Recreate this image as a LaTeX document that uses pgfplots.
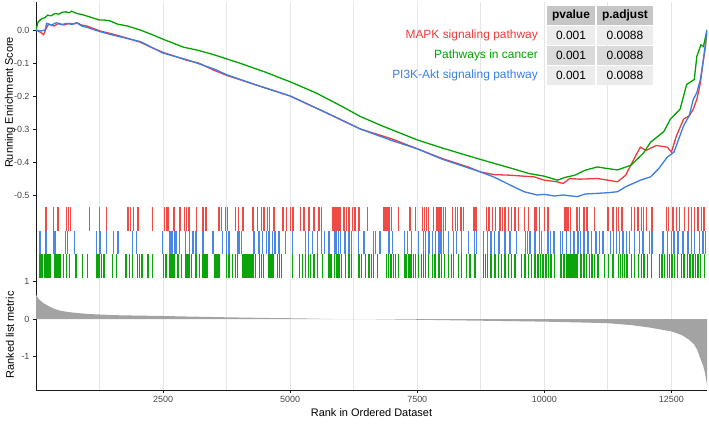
\documentclass[border=0pt]{standalone}
\usepackage{fontspec}
\setmainfont{Liberation Sans}
\usepackage{pgfplots}
\pgfplotsset{compat=1.18}
\definecolor{cRed}{HTML}{EE3B3B}
\definecolor{cGreen}{HTML}{00A300}
\definecolor{cBlue}{HTML}{3A7EE4}
\definecolor{bRed}{HTML}{EF4A45}
\definecolor{bGreen}{HTML}{0CA40C}
\definecolor{bBlue}{HTML}{4A86E4}
\definecolor{gridc}{HTML}{E6E6E6}
\definecolor{fillg}{HTML}{A3A3A3}
\definecolor{axc}{HTML}{1A1A1A}
\definecolor{hdr}{HTML}{C6C6C6}
\definecolor{rowa}{HTML}{ECECEC}
\definecolor{rowb}{HTML}{DADADA}
\pgfplotsset{
  base/.style={
    scale only axis, width=671bp,
    xmin=0, xmax=13200,
    scaled ticks=false,
    separate axis lines,
    axis y line*=left, axis x line*=bottom,
    axis line style={-, axc, line width=0.9bp},
    xtick={2500,5000,7500,10000,12500},
    minor xtick={1250,3750,6250,8750,11250},
    xmajorgrids, xminorgrids,
    major grid style={gridc, line width=0.8bp},
    minor grid style={gridc, line width=0.8bp},
    tick align=outside, major tick length=3bp, minor tick length=0pt,
    tick style={axc, line width=0.8bp},
    ticklabel style={font=\fontsize{9}{10}\selectfont, text=black!72},
  },
  nox/.style={x axis line style={draw=none}, xticklabels={}, xtick style={draw=none}},
  rug/.style={scale only axis, width=671bp, xmin=0, xmax=13200, ymin=0, ymax=1,
    hide axis, anchor=south west},
}
\begin{document}
\begin{tikzpicture}
\path[use as bounding box] (0,0) rectangle (709bp,425bp);
% ---------------- top panel: running enrichment score
\begin{axis}[base, nox, at={(36bp,222bp)}, anchor=south west, height=201bp,
  ymin=-0.5242, ymax=0.0848,
  ytick={0,-0.1,-0.2,-0.3,-0.4,-0.5},
  yticklabels={0.0,-0.1,-0.2,-0.3,-0.4,-0.5}]
\addplot[cRed, line width=1.3bp] coordinates {
(0,0) (100,-0.008) (150,-0.014) (200,0.005) (250,0.018) (350,0.012) (450,0.02) (550,0.015)
(650,0.02) (750,0.018) (800,0.022) (900,0.015) (1000,0.012) (1260,-0.003) (1500,-0.012)
(1800,-0.025) (2050,-0.037) (2300,-0.055) (2500,-0.068) (2970,-0.092) (3200,-0.1)
(3500,-0.122) (3760,-0.138) (4300,-0.165) (5000,-0.2) (5700,-0.25) (6380,-0.3)
(7000,-0.33) (7500,-0.36) (8000,-0.39) (8500,-0.415) (8740,-0.43) (9000,-0.438)
(9330,-0.44) (9600,-0.443) (9800,-0.445) (10000,-0.455) (10250,-0.46) (10370,-0.465)
(10500,-0.45) (10700,-0.452) (11040,-0.45) (11250,-0.455) (11440,-0.46) (11600,-0.44)
(11800,-0.38) (11890,-0.355) (12000,-0.365) (12200,-0.35) (12420,-0.355) (12500,-0.37)
(12600,-0.32) (12740,-0.27) (12850,-0.26) (12930,-0.24) (13000,-0.21) (13070,-0.16)
(13120,-0.1) (13170,-0.05) (13200,0)};
\addplot[cGreen, line width=1.3bp] coordinates {
(0,0) (40,0.024) (100,0.033) (180,0.038) (230,0.045) (300,0.043) (370,0.05) (450,0.048)
(520,0.054) (590,0.055) (650,0.052) (700,0.057) (760,0.053) (800,0.05) (900,0.047)
(1050,0.04) (1150,0.035) (1250,0.03) (1350,0.03) (1450,0.028) (1600,0.018) (1800,0.012)
(2050,0.0) (2300,-0.015) (2500,-0.028) (2700,-0.04) (2900,-0.052) (3200,-0.062)
(3500,-0.075) (3760,-0.088) (4000,-0.1) (4500,-0.127) (5000,-0.157) (5500,-0.19)
(6000,-0.23) (6380,-0.262) (6800,-0.29) (7500,-0.333) (8000,-0.358) (8740,-0.392)
(9330,-0.418) (9700,-0.435) (10000,-0.443) (10255,-0.455) (10400,-0.447) (10600,-0.44)
(10800,-0.425) (11040,-0.415) (11250,-0.42) (11440,-0.424) (11700,-0.41) (11950,-0.373)
(12090,-0.34) (12350,-0.308) (12480,-0.27) (12670,-0.24) (12800,-0.165) (12950,-0.15)
(13000,-0.08) (13080,-0.045) (13130,-0.05) (13200,0)};
\addplot[cBlue, line width=1.3bp] coordinates {
(0,0) (100,-0.003) (180,0.0) (210,0.02) (300,0.015) (400,0.022) (500,0.016) (600,0.02)
(700,0.017) (800,0.022) (900,0.012) (1000,0.008) (1260,-0.005) (1500,-0.015)
(2050,-0.035) (2500,-0.07) (2970,-0.09) (3500,-0.118) (3760,-0.136) (4300,-0.165)
(5000,-0.2) (5700,-0.25) (6380,-0.3) (7000,-0.335) (7500,-0.36) (8000,-0.392)
(8740,-0.43) (9000,-0.445) (9330,-0.47) (9600,-0.49) (9860,-0.5) (10000,-0.498)
(10200,-0.503) (10370,-0.5) (10650,-0.505) (10800,-0.497) (11040,-0.495) (11250,-0.493)
(11440,-0.49) (11600,-0.475) (11890,-0.455) (12090,-0.445) (12250,-0.42) (12420,-0.385)
(12550,-0.37) (12740,-0.29) (12850,-0.26) (12930,-0.21) (13000,-0.19) (13070,-0.15)
(13120,-0.1) (13170,-0.04) (13200,0)};
\end{axis}
% ---------------- middle panel: grid only
\begin{axis}[base, nox, at={(36bp,145bp)}, anchor=south west, height=77bp,
  ymin=0, ymax=77, ytick=\empty]
\addplot[draw=none] coordinates {(0,0) (13200,77)};
\end{axis}
% ---------------- hit rugs
\begin{axis}[rug, at={(36bp,194bp)}, height=24bp]
\addplot[bRed, line width=1.4bp, ycomb]
 table[header=false, row sep=\\, x index=0, y expr=1] {197\\341\\433\\604\\643\\683\\1050\\1247\\1391\\1811\\1864\\1916\\2008\\2297\\2527\\2573\\2599\\2717\\2835\\2927\\2966\\3006\\3163\\3282\\3348\\3597\\3650\\3728\\3768\\3925\\3978\\4070\\4267\\4352\\4437\\4483\\4549\\4595\\4680\\4857\\4923\\5008\\5054\\5205\\5271\\5356\\5382\\5468\\5566\\5619\\5842\\5881\\5921\\5960\\5993\\6058\\6104\\6157\\6222\\6275\\6354\\6518\\6832\\6865\\6905\\6944\\6996\\7128\\7357\\7469\\7600\\7640\\7679\\7718\\7823\\7889\\7928\\7968\\8014\\8060\\8191\\8257\\8296\\8361\\8407\\8604\\8637\\8670\\8867\\8913\\8978\\9044\\9129\\9175\\9228\\9293\\9359\\9425\\9490\\9609\\9687\\9805\\9839\\9904\\10003\\10069\\10397\\10429\\10462\\10515\\10646\\10692\\10777\\10843\\10987\\11250\\11348\\11414\\11460\\11526\\11709\\11775\\11841\\11906\\11946\\12005\\12116\\12398\\12444\\12530\\12595\\12661\\12759\\12838\\12891\\12956\\13022\\13088\\13140\\};
\end{axis}
\begin{axis}[rug, at={(36bp,171bp)}, height=23bp]
\addplot[bBlue, line width=1.4bp, ycomb]
 table[header=false, row sep=\\, x index=0, y expr=1] {79\\197\\341\\374\\578\\623\\761\\1194\\1260\\1391\\1523\\1614\\1903\\1982\\2494\\2625\\2658\\2691\\2724\\2756\\2822\\2940\\3019\\3085\\3150\\3282\\3479\\3663\\3742\\3794\\3958\\3991\\4043\\4286\\4385\\4450\\4529\\4582\\4647\\4700\\4778\\4910\\5041\\5304\\5356\\5435\\5533\\5619\\5671\\5763\\5881\\5907\\5947\\5993\\6078\\6157\\6209\\6341\\6452\\6635\\6681\\6767\\6944\\7010\\7246\\7311\\7390\\7521\\7620\\7666\\7731\\7797\\7863\\7928\\7968\\8014\\8112\\8211\\8276\\8375\\8506\\8624\\8670\\8801\\8887\\8952\\9018\\9110\\9228\\9326\\9458\\9635\\9674\\9720\\9819\\9904\\9950\\10069\\10121\\10187\\10318\\10357\\10436\\10515\\10580\\10659\\10712\\10777\\10856\\10922\\11020\\11086\\11151\\11302\\11355\\11414\\11480\\11545\\11611\\11677\\11775\\11873\\11939\\12070\\12116\\12333\\12418\\12497\\12549\\12628\\12726\\12825\\12891\\12956\\13055\\13120\\13166\\};
\end{axis}
\begin{axis}[rug, at={(36bp,147bp)}, height=24bp]
\addplot[bGreen, line width=1.4bp, ycomb]
 table[header=false, row sep=\\, x index=0, y expr=1] {66\\92\\118\\171\\197\\223\\249\\276\\361\\394\\433\\473\\538\\604\\656\\788\\919\\1017\\1194\\1221\\1247\\1286\\1326\\1352\\1509\\1588\\1772\\1838\\1903\\2002\\2035\\2087\\2205\\2297\\2507\\2560\\2638\\2678\\2717\\2796\\2862\\2940\\2966\\2993\\3019\\3058\\3150\\3216\\3282\\3322\\3361\\3518\\3558\\3597\\3742\\3794\\3860\\3925\\3958\\4070\\4109\\4148\\4188\\4227\\4267\\4319\\4398\\4437\\4477\\4582\\4621\\4660\\4746\\4792\\4831\\5041\\5185\\5238\\5304\\5356\\5402\\5468\\5533\\5632\\5763\\5802\\5868\\5921\\5960\\6012\\6091\\6157\\6209\\6354\\6406\\6485\\6551\\6603\\6635\\6721\\6898\\6931\\6983\\7029\\7075\\7128\\7259\\7292\\7338\\7377\\7423\\7469\\7521\\7587\\7620\\7666\\7718\\7797\\7850\\7928\\7981\\8033\\8112\\8178\\8217\\8309\\8375\\8473\\8539\\8637\\8801\\8847\\8887\\8952\\9031\\9097\\9162\\9228\\9293\\9359\\9425\\9556\\9622\\9687\\9753\\9819\\9872\\9924\\9970\\10036\\10082\\10134\\10200\\10331\\10384\\10436\\10462\\10489\\10515\\10541\\10567\\10594\\10620\\10646\\10725\\10777\\10830\\10889\\10935\\10987\\11053\\11184\\11263\\11348\\11460\\11499\\11539\\11578\\11630\\11709\\11775\\11854\\11906\\11959\\12024\\12103\\12267\\12313\\12366\\12418\\12464\\12510\\12562\\12615\\12694\\12746\\12812\\12864\\12923\\12969\\13022\\13074\\13153\\};
\end{axis}
% ---------------- bottom panel: ranked list metric
\begin{axis}[base, at={(36bp,35bp)}, anchor=south west, height=110bp,
  ymin=-1.88, ymax=1.033,
  ytick={-1,0,1}, yticklabels={-1,0,1},
  xticklabels={2500,5000,7500,10000,12500}]
\addplot[fill=fillg, draw=none] coordinates {
(0,0.64) (60,0.52) (145,0.42) (250,0.34) (340,0.28) (450,0.23) (600,0.19) (800,0.16)
(1000,0.135) (1240,0.12) (1600,0.1) (2000,0.09) (2500,0.08) (3000,0.065) (3760,0.045)
(4400,0.03) (5000,0.02) (5500,0.01) (5800,0.0) (6100,0.0) (6600,-0.005) (7000,-0.012)
(7500,-0.02) (8100,-0.032) (8740,-0.045) (9400,-0.057) (10000,-0.07) (10600,-0.088)
(11240,-0.11) (11700,-0.16) (12090,-0.23) (12300,-0.28) (12500,-0.33) (12700,-0.42)
(12850,-0.55) (12950,-0.68) (13010,-0.82) (13070,-1.05) (13120,-1.22) (13160,-1.42)
(13200,-1.75)} \closedcycle;
\end{axis}
% ---------------- axis titles
\node[rotate=90, font=\fontsize{11}{12}\selectfont] at (10bp,322.5bp) {Running Enrichment Score};
\node[rotate=90, font=\fontsize{11}{12}\selectfont] at (10bp,90bp) {Ranked list metric};
\node[font=\fontsize{11}{12}\selectfont] at (371.5bp,12bp) {Rank in Ordered Dataset};
% ---------------- p-value table
\fill[hdr] (547bp,400bp) rectangle (595bp,419bp);
\fill[hdr] (597bp,400bp) rectangle (653bp,419bp);
\fill[rowa] (547bp,380bp) rectangle (595bp,399bp);
\fill[rowa] (597bp,380bp) rectangle (653bp,399bp);
\fill[rowb] (547bp,360bp) rectangle (595bp,379bp);
\fill[rowb] (597bp,360bp) rectangle (653bp,379bp);
\fill[rowa] (547bp,340bp) rectangle (595bp,359bp);
\fill[rowa] (597bp,340bp) rectangle (653bp,359bp);
\begin{scope}[every node/.style={font=\fontsize{12}{14}\selectfont, inner sep=0pt}]
\node[font=\fontsize{12}{14}\selectfont\bfseries] at (571bp,409.5bp) {pvalue};
\node[font=\fontsize{12}{14}\selectfont\bfseries] at (625bp,409.5bp) {p.adjust};
\node at (571bp,389.5bp) {0.001};
\node at (625bp,389.5bp) {0.0088};
\node at (571bp,369.5bp) {0.001};
\node at (625bp,369.5bp) {0.0088};
\node at (571bp,349.5bp) {0.001};
\node at (625bp,349.5bp) {0.0088};
\node[anchor=east, text=cRed] at (538bp,389.5bp) {MAPK signaling pathway};
\node[anchor=east, text=cGreen] at (538bp,369.5bp) {Pathways in cancer};
\node[anchor=east, text=cBlue] at (538bp,349.5bp) {PI3K-Akt signaling pathway};
\end{scope}
\end{tikzpicture}
\end{document}
